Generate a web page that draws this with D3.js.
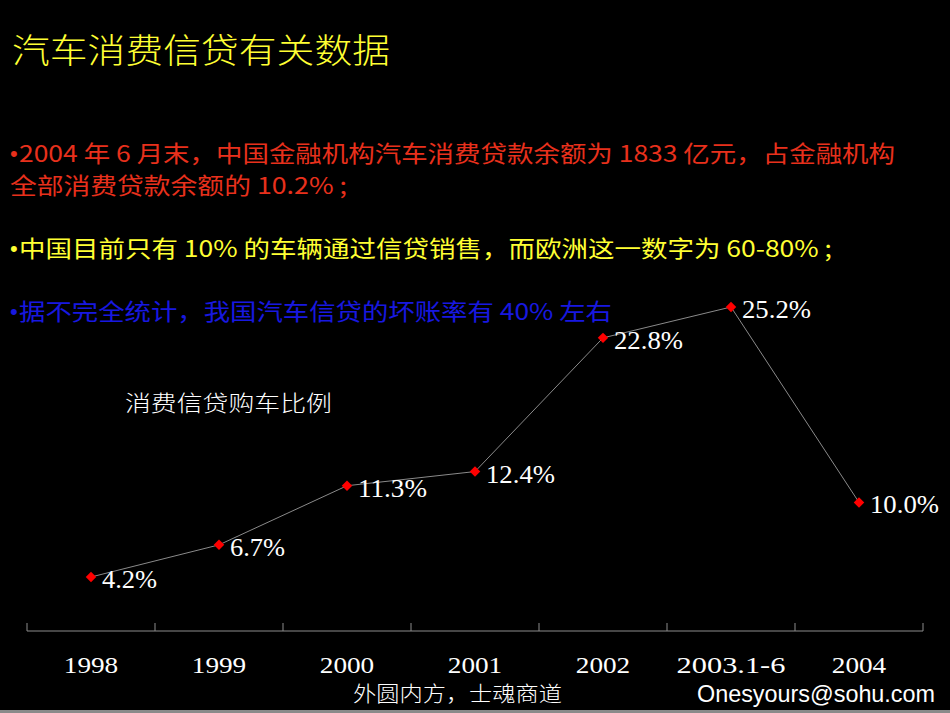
<!DOCTYPE html>
<html><head><meta charset="utf-8">
<script src="https://cdn.jsdelivr.net/npm/d3@7"></script>
<style>
html,body{margin:0;padding:0;background:#000;}
svg{display:block;}
</style></head>
<body>
<svg id="chart" width="950" height="713"></svg>
<script>
const categories = ["1998","1999","2000","2001","2002","2003.1-6","2004"];
const values = [4.2, 6.7, 11.3, 12.4, 22.8, 25.2, 10.0];
const valueLabels = ["4.2%","6.7%","11.3%","12.4%","22.8%","25.2%","10.0%"];
const titleText = "汽车消费信贷有关数据";
const bulletLines = [
  {bullet:true, text:"2004 年 6 月末，中国金融机构汽车消费贷款余额为 1833 亿元，占金融机构", color:"#e8301c", x:10, y:162, w:876},
  {bullet:false, text:"全部消费贷款余额的 10.2% ;", color:"#e8301c", x:10, y:194, w:337},
  {bullet:true, text:"中国目前只有 10% 的车辆通过信贷销售，而欧洲这一数字为 60-80% ;", color:"#ffff33", x:10, y:257, w:813},
  {bullet:true, text:"据不完全统计，我国汽车信贷的坏账率有 40% 左右", color:"#1818e0", x:10, y:320, w:593}
];
const chartTitle = "消费信贷购车比例";
const footerLeft = "外圆内方，士魂商道";
const footerRight = "Onesyours@sohu.com";

const svg = d3.select("#chart");
svg.append("rect").attr("width",950).attr("height",713).attr("fill","#000");
svg.append("rect").attr("x",0).attr("y",710).attr("width",950).attr("height",3).attr("fill","#8a8a8a");

const cjk = "'Noto Sans CJK SC', sans-serif";
const serif = "'Liberation Serif', 'DejaVu Serif', serif";

svg.append("text").text(titleText)
  .attr("x",12).attr("y",63)
  .attr("fill","#ffff33")
  .attr("font-family",cjk).attr("font-size",34).attr("font-weight",300)
  .attr("textLength",378).attr("lengthAdjust","spacingAndGlyphs");

bulletLines.forEach(b=>{
  let tx = b.x;
  if (b.bullet) {
    svg.append("text").text("•")
      .attr("x",b.x).attr("y",b.y-1)
      .attr("fill",b.color)
      .attr("font-family","'Liberation Sans', Arial, sans-serif").attr("font-size",22);
    tx = b.x + 9;
  }
  svg.append("text").text(b.text)
    .attr("x",tx).attr("y",b.y)
    .attr("fill",b.color)
    .attr("font-family",cjk).attr("font-size",23)
    .attr("textLength",b.w).attr("lengthAdjust","spacingAndGlyphs");
});

svg.append("text").text(chartTitle)
  .attr("x",125).attr("y",411)
  .attr("fill","#fff")
  .attr("font-family",cjk).attr("font-size",22).attr("font-weight",300)
  .attr("textLength",207).attr("lengthAdjust","spacingAndGlyphs");

const x = d3.scaleBand().domain(categories).range([27,923]).padding(0);
const y = d3.scaleLinear().domain([0,30]).range([631,245.3]);
const cx = c => x(c) + x.bandwidth()/2;

// axis
const axis = svg.append("g");
axis.append("line").attr("x1",x.range()[0]).attr("x2",x.range()[1])
  .attr("y1",y(0)).attr("y2",y(0)).attr("stroke","#8c8c8c").attr("stroke-width",1);
const tickPos = categories.map(c=>x(c)).concat([x.range()[1]]);
axis.selectAll("line.tick").data(tickPos).join("line").attr("class","tick")
  .attr("x1",d=>d).attr("x2",d=>d).attr("y1",y(0)).attr("y2",y(0)-8)
  .attr("stroke","#8c8c8c").attr("stroke-width",1);
axis.selectAll("text.cat").data(categories).join("text").attr("class","cat")
  .attr("x",d=>cx(d)).attr("y",673).attr("text-anchor","middle")
  .attr("fill","#fff").attr("font-family",serif).attr("font-size",24)
  .attr("textLength",d=>d.length*13.6).attr("lengthAdjust","spacingAndGlyphs")
  .text(d=>d);

// line
const data = categories.map((c,i)=>({c, v:values[i], l:valueLabels[i]}));
svg.append("path").datum(data)
  .attr("d", d3.line().x(d=>cx(d.c)).y(d=>y(d.v)))
  .attr("fill","none").attr("stroke","#8a8a8a").attr("stroke-width",1);

svg.selectAll("path.mk").data(data).join("path").attr("class","mk")
  .attr("d", d3.symbol().type(d3.symbolDiamond2).size(70))
  .attr("transform", d=>`translate(${cx(d.c)},${y(d.v)})`)
  .attr("fill","#ff0000");

svg.selectAll("text.lbl").data(data).join("text").attr("class","lbl")
  .attr("x",d=>cx(d.c)+11).attr("y",d=>y(d.v)+11)
  .attr("fill","#fff").attr("font-family",serif).attr("font-size",26)
  .attr("textLength",d=>d.l.length*13.8).attr("lengthAdjust","spacingAndGlyphs")
  .text(d=>d.l);

// footer
svg.append("text").text(footerLeft)
  .attr("x",353).attr("y",701)
  .attr("fill","#fff").attr("font-family",cjk).attr("font-size",21).attr("font-weight",300)
  .attr("textLength",209).attr("lengthAdjust","spacingAndGlyphs");
svg.append("text").text(footerRight)
  .attr("x",697).attr("y",702)
  .attr("fill","#fff").attr("font-family","'Liberation Sans', Arial, sans-serif").attr("font-size",24)
  .attr("textLength",238).attr("lengthAdjust","spacingAndGlyphs");
</script>
</body></html>
